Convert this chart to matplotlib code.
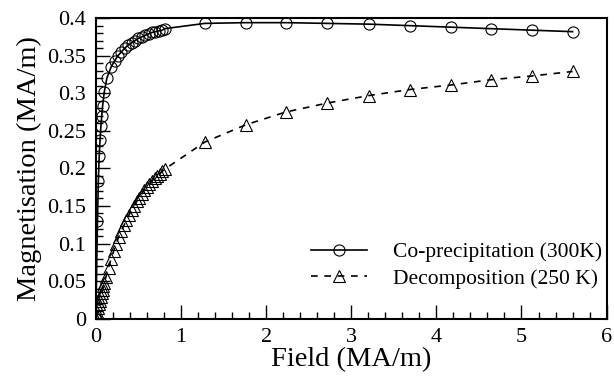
import matplotlib.pyplot as plt
from matplotlib.ticker import MultipleLocator

plt.rcParams['font.family'] = ['Liberation Serif', 'DejaVu Serif']

# co-precipitation sample, 300 K
copr_field = [0, 0.02, 0.03, 0.04, 0.05, 0.06, 0.07, 0.08, 0.10, 0.13, 0.18,
              0.22, 0.26, 0.30, 0.34, 0.38, 0.42, 0.46, 0.50, 0.54, 0.58,
              0.62, 0.66, 0.70, 0.74, 0.78, 0.81,
              1.28, 1.76, 2.23, 2.72, 3.21, 3.69, 4.17, 4.64, 5.12, 5.60]
copr_mag = [0, 0.13, 0.183, 0.216, 0.238, 0.256, 0.27, 0.283, 0.302, 0.32, 0.335,
            0.343, 0.350, 0.355, 0.360, 0.364, 0.367, 0.370, 0.373, 0.375, 0.377,
            0.379, 0.381, 0.382, 0.383, 0.384, 0.386,
            0.393, 0.394, 0.394, 0.393, 0.392, 0.390, 0.388, 0.386, 0.384, 0.382]

# decomposition sample, 250 K
deco_field = [0, 0.01, 0.02, 0.03, 0.04, 0.05, 0.06, 0.07, 0.08, 0.09, 0.10,
              0.12, 0.15, 0.18, 0.21, 0.24, 0.27, 0.30, 0.33, 0.36, 0.39,
              0.42, 0.45, 0.48, 0.51, 0.54, 0.57, 0.60, 0.63, 0.66, 0.69,
              0.72, 0.75, 0.78, 0.81,
              1.28, 1.76, 2.23, 2.72, 3.21, 3.69, 4.17, 4.64, 5.12, 5.60]
deco_mag = [0, 0.004, 0.009, 0.014, 0.019, 0.024, 0.029, 0.034, 0.038, 0.043, 0.048,
            0.056, 0.068, 0.080, 0.090, 0.100, 0.109, 0.117, 0.124, 0.131, 0.138,
            0.144, 0.150, 0.156, 0.161, 0.166, 0.171, 0.175, 0.179, 0.183, 0.187,
            0.190, 0.193, 0.196, 0.199,
            0.235, 0.258, 0.275, 0.287, 0.297, 0.305, 0.311, 0.318, 0.323, 0.329]

fig = plt.figure(figsize=(6.14, 3.78), dpi=100)
ax = fig.add_axes([0.156, 0.157, 0.832, 0.795])

ax.plot(copr_field, copr_mag, color='black', lw=1.2, marker='o', ms=8,
        mfc='none', mec='black', mew=0.8, label='Co-precipitation (300K)')
ax.plot(deco_field, deco_mag, color='black', lw=1.2, ls=(0, (4, 4)), marker='^',
        ms=8.5, mfc='none', mec='black', mew=0.8, label='Decomposition (250 K)')

ax.set_xlim(0, 6)
ax.set_ylim(0, 0.4)
ax.xaxis.set_major_locator(MultipleLocator(1))
ax.xaxis.set_minor_locator(MultipleLocator(0.2))
ax.yaxis.set_minor_locator(MultipleLocator(0.01))
ax.set_yticks([0, 0.05, 0.1, 0.15, 0.2, 0.25, 0.3, 0.35, 0.4])
ax.set_yticklabels(['0', '0.05', '0.1', '0.15', '0.2', '0.25', '0.3', '0.35', '0.4'])
ax.tick_params(which='both', direction='in', top=False, right=False, labelsize=16, width=1)
ax.tick_params(which='major', length=10, pad=7)
ax.tick_params(which='minor', length=5)
for s in ax.spines.values():
    s.set_linewidth(1.5)

ax.set_xlabel('Field (MA/m)', fontsize=20.5, labelpad=0)
ax.set_ylabel('Magnetisation (MA/m)', fontsize=20.5, labelpad=4)

ax.legend(loc='lower right', frameon=False, fontsize=15.5, numpoints=1,
          handlelength=2.6, handletextpad=1.2, borderaxespad=0,
          labelspacing=0.3, bbox_to_anchor=(1.008, 0.07))

fig.savefig('out.png', dpi=100)
